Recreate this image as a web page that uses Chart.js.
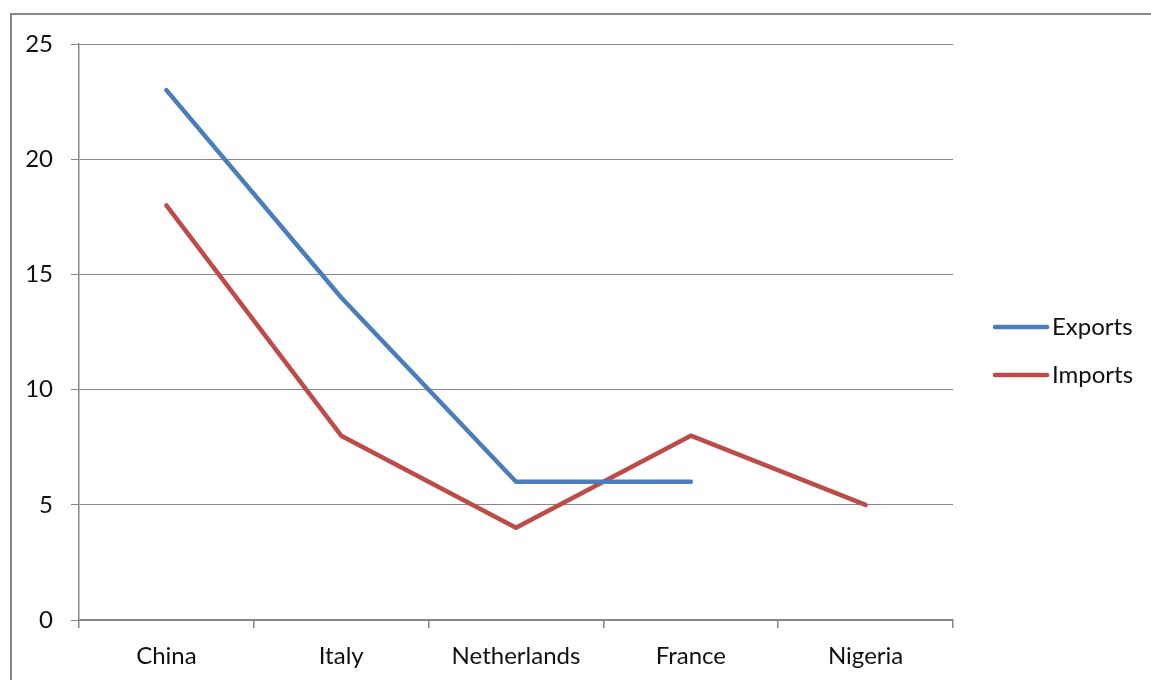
<!DOCTYPE html>
<html>
<head>
<meta charset="utf-8">
<script src="https://cdn.jsdelivr.net/npm/chart.js@4"></script>
<style>
  html, body { margin: 0; padding: 0; background: #fff; }
  #wrap { position: relative; width: 1151px; height: 680px; }
</style>
</head>
<body>
<div id="wrap"><canvas id="c" width="1151" height="680"></canvas></div>
<script>
const countries = ['China', 'Italy', 'Netherlands', 'France', 'Nigeria'];
const exportsValues = [23, 14, 6, 6, null];
const importsValues = [18, 8, 4, 8, 5];
const yTicks = [0, 5, 10, 15, 20, 25];

const FONT = 'Lato, "Open Sans", sans-serif';
const FONT_SIZE = 24;

// Outer frame and a right-hand legend with line samples
const framePlugin = {
  id: 'frame',
  beforeDraw(chart) {
    const ctx = chart.ctx;
    ctx.save();
    ctx.fillStyle = '#fff';
    ctx.fillRect(0, 0, chart.width, chart.height);
    ctx.strokeStyle = '#868686';
    ctx.lineWidth = 2;
    ctx.strokeRect(11, 14, chart.width + 20, chart.height + 20);
    ctx.restore();
  },
  afterDraw(chart) {
    const ctx = chart.ctx;
    ctx.save();
    ctx.font = FONT_SIZE + 'px ' + FONT;
    ctx.textBaseline = 'middle';
    ctx.lineCap = 'round';
    chart.data.datasets.forEach((ds, i) => {
      const y = 327 + i * 48;
      ctx.strokeStyle = ds.borderColor;
      ctx.lineWidth = 4.5;
      ctx.beginPath();
      ctx.moveTo(995, y);
      ctx.lineTo(1047, y);
      ctx.stroke();
      ctx.fillStyle = '#111';
      ctx.fillText(ds.label, 1052, y);
    });
    ctx.restore();
  }
};

new Chart(document.getElementById('c'), {
  type: 'line',
  data: {
    labels: countries,
    datasets: [
      { label: 'Exports', data: exportsValues, borderColor: '#4a7ebb', backgroundColor: '#4a7ebb' },
      { label: 'Imports', data: importsValues, borderColor: '#be4b48', backgroundColor: '#be4b48' }
    ]
  },
  options: {
    responsive: false,
    animation: false,
    devicePixelRatio: 1,
    spanGaps: false,
    elements: {
      line: { borderWidth: 4.5, tension: 0, borderCapStyle: 'round', borderJoinStyle: 'round' },
      point: { radius: 0, hoverRadius: 0 }
    },
    layout: { padding: { left: 0, top: 44, right: 198, bottom: 0 } },
    plugins: { legend: { display: false }, tooltip: { enabled: false } },
    scales: {
      x: {
        offset: true,
        grid: { offset: true, drawOnChartArea: false, color: '#868686', tickLength: 8, lineWidth: 1.5 },
        border: { color: '#868686', width: 1.5 },
        ticks: { color: '#111', font: { family: FONT, size: FONT_SIZE }, padding: 14, maxRotation: 0 },
        afterFit(s) { s.height = 60; }
      },
      y: {
        min: 0, max: 25,
        afterBuildTicks(s) { s.ticks = yTicks.map(v => ({ value: v })); },
        grid: { color: '#868686', tickLength: 8, lineWidth: 1 },
        border: { color: '#868686', width: 1.5 },
        ticks: { color: '#111', font: { family: FONT, size: FONT_SIZE }, padding: 18 },
        afterFit(s) { s.width = 79; }
      }
    }
  },
  plugins: [framePlugin]
});
</script>
</body>
</html>
